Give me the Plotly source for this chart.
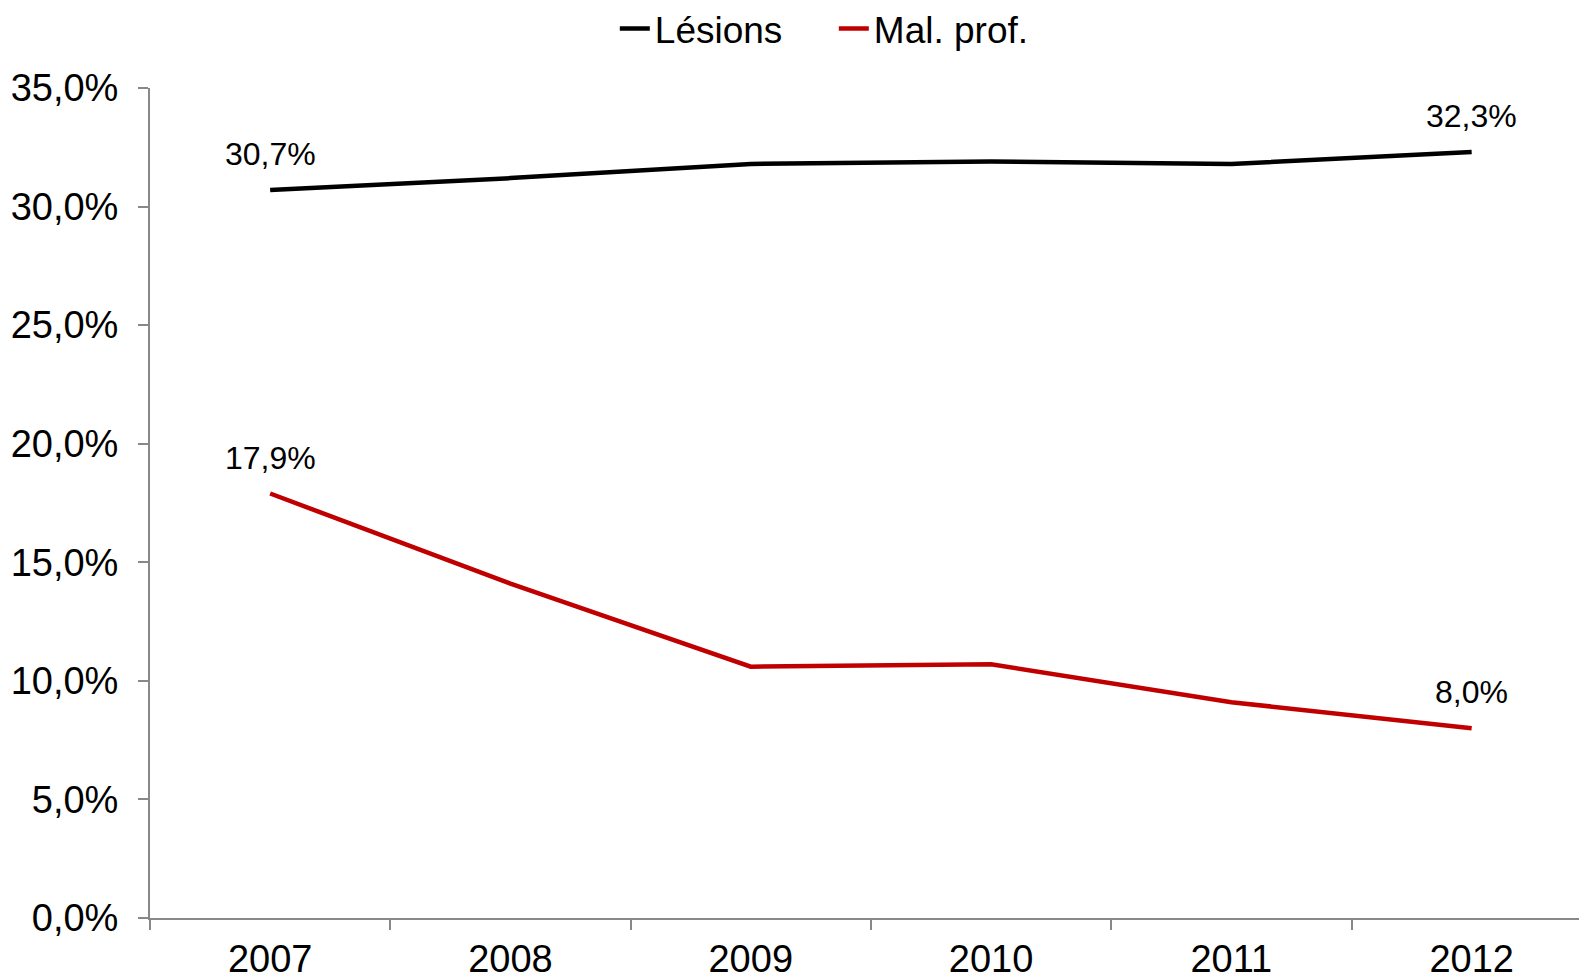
import plotly.graph_objects as go

years = ["2007", "2008", "2009", "2010", "2011", "2012"]
lesions = [30.7, 31.2, 31.8, 31.9, 31.8, 32.3]
mal_prof = [17.9, 14.1, 10.6, 10.7, 9.1, 8.0]
label_idx = [0, 5]

FONT = "Liberation Sans, Arial, sans-serif"

fig = go.Figure()
fig.add_trace(go.Scatter(x=years, y=lesions, mode="lines", name="Lésions",
                         line=dict(color="#000000", width=4.5)))
fig.add_trace(go.Scatter(x=years, y=mal_prof, mode="lines", name="Mal. prof.",
                         line=dict(color="#C00000", width=4.5)))

for series in (lesions, mal_prof):
    for i in label_idx:
        fig.add_annotation(x=i, y=series[i], xref="x", yref="y",
                           text=f"{series[i]:.1f}%".replace(".", ","),
                           showarrow=False, yshift=36,
                           font=dict(size=32, color="#000000", family=FONT))

fig.update_layout(
    width=1579, height=972,
    margin=dict(l=142, r=0, t=80, b=62, autoexpand=False),
    paper_bgcolor="white", plot_bgcolor="white",
    font=dict(family=FONT, color="#000000", size=38),
    separators=", ",
    showlegend=True,
    legend=dict(orientation="h", xref="container", yref="container", x=0.523, y=0.9785,
                xanchor="center", yanchor="middle", font=dict(size=37),
                entrywidth=174, entrywidthmode="pixels", tracegroupgap=0),
)
fig.update_xaxes(type="category", range=[-0.5, 5.48], showline=True, linecolor="#888888", linewidth=2,
                 ticks="outside", tickson="boundaries", ticklen=10, tickcolor="#888888", tickwidth=2,
                 showgrid=False, tickfont=dict(size=38), zeroline=False, automargin=False,
                 ticklabelstandoff=6)
fig.update_yaxes(range=[0, 35], dtick=5, tickformat=".1f", ticksuffix="%", showline=True,
                 linecolor="#888888", linewidth=2, ticks="outside", ticklen=10, tickcolor="#888888",
                 tickwidth=2, showgrid=False, zeroline=False, tickfont=dict(size=38),
                 automargin=False, ticklabelstandoff=12)

fig.write_html("out.html")
